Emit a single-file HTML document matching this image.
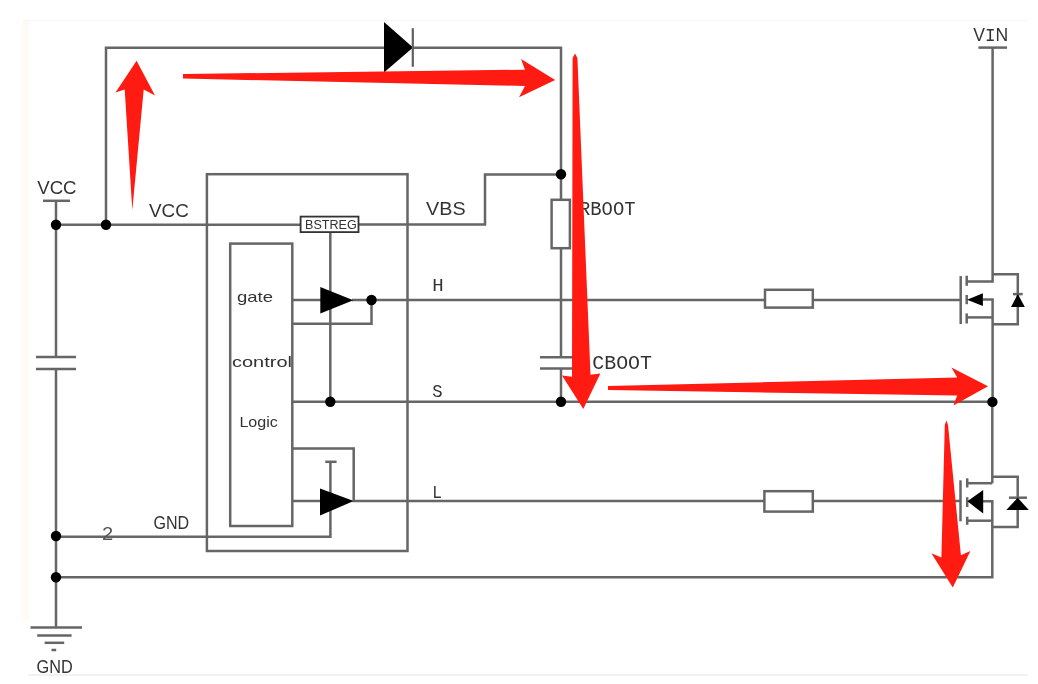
<!DOCTYPE html>
<html><head><meta charset="utf-8">
<style>
html,body{margin:0;padding:0;background:#fff;width:1038px;height:684px;overflow:hidden}
svg{display:block;filter:blur(0.45px)}
text{font-family:"Liberation Sans",sans-serif;fill:#333}
.m{font-family:"Liberation Mono",monospace}
</style></head><body>
<svg width="1038" height="684" viewBox="0 0 1038 684">
<rect x="0" y="0" width="1038" height="684" fill="#fff"/>
<rect x="23" y="20" width="6" height="600" fill="#fffbf4"/>
<line x1="23" y1="20.5" x2="1028" y2="20.5" stroke="#f7f7f7" stroke-width="1"/>
<line x1="28" y1="675" x2="1028" y2="675" stroke="#eeeeee" stroke-width="1.5"/>

<g fill="none" stroke="#666" stroke-width="2.5" stroke-linecap="butt" stroke-linejoin="miter">
  <!-- top loop -->
  <polyline points="106,225 106,47.7 561,47.7 561,199.8"/>
  <!-- VCC left symbol -->
  <line x1="43" y1="200.8" x2="70" y2="200.8"/>
  <line x1="56" y1="200.8" x2="56" y2="356.9"/>
  <line x1="36" y1="356.9" x2="76" y2="356.9"/>
  <line x1="36" y1="368.9" x2="76" y2="368.9"/>
  <line x1="56" y1="368.9" x2="56" y2="627.6"/>
  <!-- ground -->
  <line x1="30.5" y1="627.6" x2="82" y2="627.6"/>
  <line x1="37.2" y1="635.6" x2="71.6" y2="635.6"/>
  <line x1="44.6" y1="642.8" x2="64.2" y2="642.8"/>
  <line x1="51.5" y1="650" x2="56.2" y2="650"/>
  <!-- VCC rail -->
  <line x1="56" y1="224.7" x2="300.4" y2="224.7"/>
  <!-- BSTREG to VBS -->
  <polyline points="358.7,224.4 485,224.4 485,174.4 561,174.4"/>
  <!-- RBOOT / CBOOT -->
  <rect x="551.6" y="199.8" width="18.3" height="48.4"/>
  <polyline points="561,248.2 561,357.2"/>
  <line x1="540" y1="357.2" x2="582" y2="357.2"/>
  <line x1="540" y1="368.4" x2="582" y2="368.4"/>
  <line x1="561" y1="368.4" x2="561" y2="401.8"/>
  <!-- IC box -->
  <rect x="206.9" y="174.2" width="200.6" height="376.8"/>
  <rect x="230.2" y="243.6" width="62.1" height="282.4"/>
  <!-- BSTREG vertical -->
  <line x1="330.3" y1="232.3" x2="330.3" y2="401.8"/>
  <!-- H -->
  <line x1="292.3" y1="300" x2="322" y2="300"/>
  <polyline points="352,300 765,300"/>
  <polyline points="371.5,300 371.5,323.8 292.3,323.8"/>
  <rect x="765" y="289.8" width="47.8" height="17.8"/>
  <line x1="812.8" y1="300" x2="960.7" y2="300"/>
  <!-- S -->
  <line x1="292.3" y1="401.8" x2="992.5" y2="401.8"/>
  <!-- L -->
  <line x1="292.3" y1="501" x2="322" y2="501"/>
  <polyline points="292.3,448.4 353.7,448.4 353.7,501 764.4,501"/>
  <rect x="764.4" y="491.2" width="48.4" height="20.4"/>
  <line x1="812.8" y1="501" x2="960.5" y2="501"/>
  <line x1="325.3" y1="461.8" x2="336.6" y2="461.8"/>
  <polyline points="330.4,461.8 330.4,536.7 56,536.7"/>
  <!-- bottom GND rail -->
  <polyline points="56,577.2 992.3,577.2 992.3,501.3 983,501.3"/>
  <!-- VIN -->
  <line x1="978.4" y1="47.6" x2="1007" y2="47.6"/>
  <polyline points="992.6,47.6 992.6,281.4 966.7,281.4"/>
  <!-- T1 -->
  <line x1="960.7" y1="276.1" x2="960.7" y2="324"/>
  <line x1="966.7" y1="275.7" x2="966.7" y2="285.8"/>
  <line x1="966.7" y1="295" x2="966.7" y2="304.2"/>
  <line x1="966.7" y1="313.4" x2="966.7" y2="323.5"/>
  <polyline points="992.6,274.2 1017.8,274.2 1017.8,324.3 992.6,324.3"/>
  <polyline points="983,299.6 992.6,299.6 992.6,401.8"/>
  <line x1="966.7" y1="317.4" x2="992.6" y2="317.4"/>
  <line x1="1013" y1="294.1" x2="1022.7" y2="294.1"/>
  <!-- T2 -->
  <line x1="992.3" y1="401.8" x2="992.3" y2="483.2"/>
  <line x1="967.2" y1="483.2" x2="992.3" y2="483.2"/>
  <line x1="960.5" y1="480.3" x2="960.5" y2="521.3"/>
  <line x1="967.2" y1="478.3" x2="967.2" y2="487.5"/>
  <line x1="967.2" y1="497.2" x2="967.2" y2="507"/>
  <line x1="967.2" y1="516.7" x2="967.2" y2="524.8"/>
  <polyline points="992.3,476.8 1017.7,476.8 1017.7,526.9 992.3,526.9"/>
  <line x1="967.2" y1="520.7" x2="992.3" y2="520.7"/>
  <line x1="1009" y1="497.7" x2="1027" y2="497.7"/>
</g>

<!-- black filled -->
<g fill="#000" stroke="none">
  <circle cx="56" cy="224.8" r="5.2"/>
  <circle cx="106" cy="224.8" r="5.2"/>
  <circle cx="561" cy="174.3" r="5.2"/>
  <circle cx="561" cy="401.8" r="5.2"/>
  <circle cx="371.5" cy="300" r="5.2"/>
  <circle cx="330.3" cy="401.8" r="5.2"/>
  <circle cx="56" cy="536" r="5.2"/>
  <circle cx="56" cy="577.2" r="5.2"/>
  <circle cx="992.4" cy="401.9" r="5.2"/>
  <!-- diode top -->
  <polygon points="384,22 384,72.5 413,47.5"/>
  <!-- buffers -->
  <polygon points="320.3,287 320.3,313.6 353.3,300.3"/>
  <polygon points="320,488.4 320,515.5 353.7,501"/>
  <!-- mosfet arrows -->
  <polygon points="967.1,299.8 982.9,293.2 982.9,306"/>
  <polygon points="967.4,501.3 983.2,490 983.2,513.6"/>
  <!-- body diodes -->
  <polygon points="1011,306.9 1024.8,306.9 1017.8,294.1"/>
  <polygon points="1006.3,510 1028.8,510 1017.7,497.7"/>
</g>
<rect x="300.6" y="216.6" width="57.9" height="15.5" fill="none" stroke="#333" stroke-width="1.8"/>
<line x1="412.8" y1="28.2" x2="412.8" y2="66.8" stroke="#5e5e5e" stroke-width="2.2"/>

<!-- texts -->
<text x="37.2" y="194" font-size="19" textLength="39.4" lengthAdjust="spacingAndGlyphs">VCC</text>
<text x="149" y="217.3" font-size="19" textLength="39.8" lengthAdjust="spacingAndGlyphs">VCC</text>
<text x="426" y="215.2" font-size="19" textLength="39.6" lengthAdjust="spacingAndGlyphs">VBS</text>
<text x="973.2" y="41.3" font-size="19" textLength="35" lengthAdjust="spacingAndGlyphs">V<tspan class="m">I</tspan>N</text>
<text x="36.6" y="672.5" font-size="18.5" textLength="36.2" lengthAdjust="spacingAndGlyphs">GND</text>
<text x="153.5" y="528.6" font-size="19" textLength="35.7" lengthAdjust="spacingAndGlyphs">GND</text>
<text x="102" y="540" font-size="19" style="fill:#555" textLength="11.2" lengthAdjust="spacingAndGlyphs">2</text>
<text class="m" x="432.3" y="290.6" font-size="18.5" textLength="11.4" lengthAdjust="spacingAndGlyphs">H</text>
<text class="m" x="432.3" y="396.5" font-size="18.5" textLength="10.3" lengthAdjust="spacingAndGlyphs">S</text>
<text class="m" x="432.3" y="497.6" font-size="18.5" textLength="9.6" lengthAdjust="spacingAndGlyphs">L</text>
<text class="m" x="579" y="215" font-size="20" textLength="56.5" lengthAdjust="spacingAndGlyphs">RBOOT</text>
<text class="m" x="592.3" y="368.9" font-size="20" textLength="59.7" lengthAdjust="spacingAndGlyphs">CBOOT</text>
<text x="237" y="302" font-size="14.5" textLength="36" lengthAdjust="spacingAndGlyphs">gate</text>
<text x="232" y="367" font-size="14.5" textLength="60" lengthAdjust="spacingAndGlyphs">control</text>
<text x="239.4" y="426.6" font-size="14" textLength="38.5" lengthAdjust="spacingAndGlyphs">Logic</text>
<text x="305.1" y="228.9" font-size="13.4" textLength="51.6" lengthAdjust="spacingAndGlyphs">BSTREG</text>

<!-- red arrows -->
<g fill="#ff1a12" stroke="none">
  <!-- up arrow -->
  <polygon points="136.6,60.7 155,95.5 143.7,89.4 132.3,210 124.7,89.4 115.5,92.4"/>
  <!-- top right arrow -->
  <polygon points="183,74 525,69.7 521,58.9 555.2,79.9 519,97.3 525,86 183,78.5"/>
  <!-- down arrow (middle) -->
  <polygon points="572.6,58 575,53.5 577.4,58 590.5,374.7 600.4,373.4 583.3,409 562,375.4 572,376.7"/>
  <!-- S arrow -->
  <polygon points="608,386 957.2,377.6 951.4,367.5 988,386.3 953.4,405.6 957.2,395.5 608,390"/>
  <!-- down arrow right -->
  <polygon points="944.8,425 946.4,420.5 948,425 960.9,555.2 970.4,550.9 952.8,587.5 931.4,553.3 941.4,557.6"/>
</g>
</svg>
</body></html>
